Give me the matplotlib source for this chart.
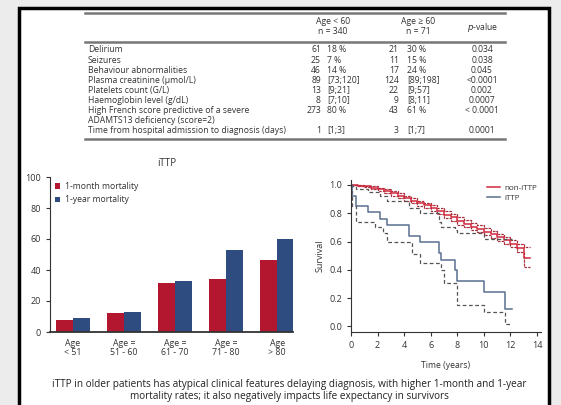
import matplotlib.pyplot as plt
from matplotlib.patches import Rectangle
from matplotlib.lines import Line2D
import numpy as np

plt.rcParams['font.family'] = ['Open Sans', 'DejaVu Sans']

W, H = 561, 405

# --- table data ---
row_labels = ["Delirium", "Seizures", "Behaviour abnormalities", "Plasma creatinine (\u03bcmol/L)",
              "Platelets count (G/L)", "Haemoglobin level (g/dL)",
              "High French score predictive of a severe", "ADAMTS13 deficiency (score=2)",
              "Time from hospital admission to diagnosis (days)"]
young_n = ["61", "25", "46", "89", "13", "8", "273", "", "1"]
young_v = ["18 %", "7 %", "14 %", "[73;120]", "[9;21]", "[7;10]", "80 %", "", "[1;3]"]
old_n = ["21", "11", "17", "124", "22", "9", "43", "", "3"]
old_v = ["30 %", "15 %", "24 %", "[89;198]", "[9;57]", "[8;11]", "61 %", "", "[1;7]"]
pvals = ["0.034", "0.038", "0.045", "<0.0001", "0.002", "0.0007", "< 0.0001", "", "0.0001"]

# --- bar chart data ---
age_groups = ["Age\n< 51", "Age =\n51 - 60", "Age =\n61 - 70", "Age =\n71 - 80", "Age\n> 80"]
month_mort = [8, 12, 31.5, 34, 46.5]
year_mort = [9, 13, 33, 53, 60]

# --- survival data ---
non_t = [0, 0.5, 1, 1.5, 2, 2.5, 3, 3.5, 4, 4.5, 5, 5.5, 6, 6.5, 7, 7.5, 8, 8.5, 9, 9.5,
         10, 10.5, 11, 11.5, 12, 12.5, 13, 13.5]
non_s = [1.0, 0.995, 0.99, 0.98, 0.97, 0.955, 0.94, 0.925, 0.905, 0.89, 0.87, 0.855, 0.835,
         0.815, 0.79, 0.77, 0.745, 0.725, 0.705, 0.69, 0.67, 0.65, 0.63, 0.61, 0.585, 0.555,
         0.48, 0.48]
non_hi = [1.0, 1.0, 0.995, 0.99, 0.98, 0.97, 0.955, 0.94, 0.925, 0.91, 0.89, 0.875, 0.855,
          0.835, 0.815, 0.795, 0.77, 0.75, 0.73, 0.715, 0.695, 0.675, 0.655, 0.635, 0.61,
          0.585, 0.56, 0.56]
non_lo = [1.0, 0.99, 0.985, 0.97, 0.96, 0.94, 0.925, 0.91, 0.885, 0.87, 0.85, 0.835, 0.815,
          0.795, 0.765, 0.745, 0.72, 0.70, 0.68, 0.665, 0.645, 0.625, 0.605, 0.585, 0.56,
          0.525, 0.42, 0.42]

ittp_t = [0, 0.05, 0.4, 1.3, 2.2, 2.7, 4.4, 5.2, 6.6, 6.8, 7.8, 8.0, 10.0, 11.6, 12.1]
ittp_s = [1.0, 0.92, 0.85, 0.81, 0.76, 0.72, 0.64, 0.60, 0.52, 0.47, 0.40, 0.32, 0.24, 0.12, 0.12]
ittp_hi = [1.0, 0.99, 0.97, 0.95, 0.92, 0.89, 0.84, 0.80, 0.74, 0.70, 0.68, 0.66, 0.62, 0.62, 0.62]
ittp_lo_t = [0, 0.05, 0.4, 1.8, 2.4, 2.7, 4.6, 5.2, 6.8, 7.0, 7.8, 8.0, 10.0, 11.6, 12.1]
ittp_lo = [1.0, 0.85, 0.74, 0.70, 0.66, 0.60, 0.51, 0.45, 0.40, 0.31, 0.31, 0.15, 0.10, 0.02, 0.02]

fig = plt.figure(figsize=(W / 100, H / 100), dpi=100, facecolor="#ececec")


def fx(x):
    return x / W


def fy(y):
    return 1 - y / H


# white panel with black frame
fig.patches.append(Rectangle((fx(19), fy(415)), fx(549) - fx(19), fy(8) - fy(415),
                             transform=fig.transFigure, facecolor="white",
                             edgecolor="black", linewidth=2.5, zorder=-5))

# ---- table ----
txt = "#333333"
ts = 6.2
for y in [13, 42, 139]:
    fig.add_artist(Line2D([fx(85), fx(505)], [fy(y), fy(y)], color="#777777", lw=1.8,
                          transform=fig.transFigure))
fig.text(fx(333), fy(22), "Age < 60", ha="center", va="center", fontsize=ts, color=txt)
fig.text(fx(333), fy(32), "n = 340", ha="center", va="center", fontsize=ts, color=txt)
fig.text(fx(418), fy(22), "Age \u2265 60", ha="center", va="center", fontsize=ts, color=txt)
fig.text(fx(418), fy(32), "n = 71", ha="center", va="center", fontsize=ts, color=txt)
fig.text(fx(483), fy(27), "$p$-value", ha="center", va="center", fontsize=ts, color=txt)
for i, lab in enumerate(row_labels):
    y = fy(50 + i * 10.1)
    fig.text(fx(88), y, lab, ha="left", va="center", fontsize=ts, color=txt)
    fig.text(fx(321), y, young_n[i], ha="right", va="center", fontsize=ts, color=txt)
    fig.text(fx(327), y, young_v[i], ha="left", va="center", fontsize=ts, color=txt)
    fig.text(fx(399), y, old_n[i], ha="right", va="center", fontsize=ts, color=txt)
    fig.text(fx(407), y, old_v[i], ha="left", va="center", fontsize=ts, color=txt)
    fig.text(fx(482), y, pvals[i], ha="center", va="center", fontsize=ts, color=txt)

# ---- bar chart ----
ax1 = fig.add_axes([fx(50), fy(332), fx(293) - fx(50), fy(177) - fy(332)])
ax1.set_facecolor("none")
x = np.arange(len(age_groups))
bw = 0.333
ax1.bar(x - bw / 2, month_mort, bw, color="#b3172f", label="1-month mortality")
ax1.bar(x + bw / 2, year_mort, bw, color="#2f4c80", label="1-year mortality")
ax1.set_xlim(-0.45, 4.31)
ax1.set_ylim(0, 100)
ax1.set_yticks([0, 20, 40, 60, 80, 100])
ax1.set_xticks(x)
ax1.set_xticklabels(age_groups, fontsize=6.3, color=txt, linespacing=1.0)
ax1.tick_params(axis="x", length=0, pad=5)
ax1.tick_params(axis="y", labelsize=6.5, colors=txt, length=3, width=0.8)
for s in ["top", "right"]:
    ax1.spines[s].set_visible(False)
ax1.spines["left"].set_color("#333333")
ax1.spines["bottom"].set_color("#333333")
ax1.spines["bottom"].set_linewidth(1.3)
ax1.legend(loc="upper left", frameon=False, fontsize=6.2, handlelength=0.6, handleheight=0.6,
           handletextpad=0.5, labelspacing=0.5, borderaxespad=0.2, labelcolor=txt)
fig.text(fx(167), fy(163), "iTTP", ha="center", va="center", fontsize=7, color=txt)

# ---- survival ----
ax2 = fig.add_axes([fx(351), fy(332), fx(541) - fx(351), fy(180) - fy(332)])
ax2.set_facecolor("none")
red = "#d0283c"
ax2.step(non_t, non_hi, where="post", color=red, lw=0.9, ls=(0, (2, 1)))
ax2.step(non_t, non_lo, where="post", color=red, lw=0.9, ls=(0, (2, 1)))
ax2.step(non_t, non_hi, where="post", color="#444444", lw=0.5, ls=(0, (1.5, 3)))
ax2.step(non_t, non_lo, where="post", color="#444444", lw=0.5, ls=(0, (1.5, 3)))
ax2.step(non_t, non_s, where="post", color=red, lw=1.1)
ax2.step(ittp_t, ittp_hi, where="post", color="#555555", lw=0.9, ls=(0, (3, 2)))
ax2.step(ittp_lo_t, ittp_lo, where="post", color="#555555", lw=0.9, ls=(0, (3, 2)))
ax2.step(ittp_t, ittp_s, where="post", color="#5b6f90", lw=1.1)
ax2.set_xlim(0, 14.3)
ax2.set_ylim(-0.04, 1.035)
ax2.set_xticks(range(0, 15, 2))
ax2.set_yticks([0, 0.2, 0.4, 0.6, 0.8, 1.0])
ax2.set_yticklabels(["0.0", "0.2", "0.4", "0.6", "0.8", "1.0"])
ax2.tick_params(labelsize=6.5, colors=txt, length=3, width=0.8)
for s in ["top", "right"]:
    ax2.spines[s].set_visible(False)
ax2.spines["left"].set_color("#333333")
ax2.spines["bottom"].set_color("#333333")
ax2.set_xlabel("Time (years)", fontsize=6.2, color=txt, labelpad=8)
ax2.set_ylabel("Survival", fontsize=6.5, color=txt, labelpad=3)
handles = [Line2D([], [], color=red, lw=1.1), Line2D([], [], color="#5b6f90", lw=1.1)]
ax2.legend(handles, ["non-iTTP", "iTTP"], loc="upper right", frameon=False, fontsize=5.8,
           handlelength=1.6, handletextpad=0.5, labelspacing=0.3, borderaxespad=0.1,
           labelcolor=txt)

# ---- caption ----
fig.text(fx(289), fy(385), "iTTP in older patients has atypical clinical features delaying "
         "diagnosis, with higher 1-month and 1-year", ha="center", va="center", fontsize=7.2,
         color="#222222")
fig.text(fx(289), fy(396), "mortality rates; it also negatively impacts life expectancy in "
         "survivors", ha="center", va="center", fontsize=7.2, color="#222222")

fig.savefig("out.png", dpi=100, facecolor=fig.get_facecolor())
